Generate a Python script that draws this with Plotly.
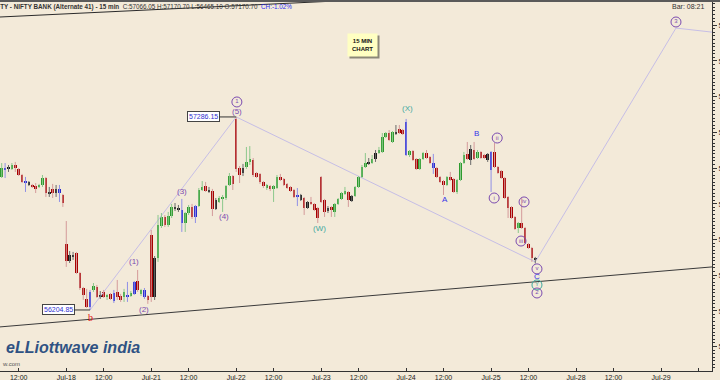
import plotly.graph_objects as go

# ---------------- data ----------------
sessions = ["Jul-17", "Jul-18", "Jul-21", "Jul-22", "Jul-23", "Jul-24", "Jul-25", "Jul-28", "Jul-29"]
BARS_PER_SESSION = 25      # 15-min bars 09:15 .. 15:15
FIRST_SLOT = 6             # first bar shown is Jul-17 10:45
NOON_SLOT = 11             # 12:00 bar

opens = [
    56950, 56995, 57000, 56995, 57017, 56995, 56961, 56922, 56922, 56905, 56899, 56894, 56905, 56944, 56866, 56883, 56860, 56883, 56849,
    56575, 56479, 56507, 56524, 56412, 56328, 56267, 56222, 56317, 56334, 56289, 56306, 56278, 56295, 56300, 56306, 56283, 56278, 56283, 56283, 56295, 56367, 56295, 56317, 56283,
    56625, 56278, 56496, 56675, 56726, 56681, 56731, 56771, 56771, 56765, 56692, 56748, 56782, 56726, 56787, 56877, 56899, 56877, 56871, 56771, 56810, 56827, 56832, 56905, 56955,
    57275, 57000, 56972, 57006, 57034, 57045, 56972, 56967, 56922, 56888, 56899, 56888, 56888, 56950, 56939, 56911, 56894, 56877, 56849, 56821, 56832, 56776, 56810, 56799, 56776,
    56950, 56821, 56759, 56782, 56754, 56799, 56827, 56855, 56866, 56815, 56843, 56894, 56950, 57006, 57028, 57028, 57051, 57084, 57090, 57174, 57196, 57146, 57191, 57219, 57213,
    57258, 57073, 57095, 57051, 56995, 57051, 57084, 57062, 57028, 57000, 56950, 56927, 56905, 56950, 56939, 56866, 56933, 57028, 57079, 57045, 57101, 57056, 57090, 57073, 57045,
    57090, 57090, 57006, 56983, 56944, 56838, 56782, 56726, 56664, 56692, 56664, 56575, 56552, 56491,
]
highs = [
    57028, 57028, 57017, 57028, 57034, 57000, 56967, 56950, 56927, 56911, 56916, 56911, 56961, 56950, 56894, 56911, 56905, 56905, 56855,
    56703, 56535, 56530, 56530, 56418, 56334, 56323, 56317, 56356, 56345, 56311, 56317, 56295, 56300, 56317, 56373, 56295, 56323, 56362, 56311, 56367, 56429, 56323, 56328, 56289,
    56653, 56507, 56737, 56748, 56737, 56754, 56799, 56804, 56793, 56827, 56754, 56793, 56799, 56793, 56888, 56927, 56922, 56894, 56883, 56832, 56843, 56849, 56905, 56972, 56961,
    57286.15, 57011, 57023, 57118, 57123, 57056, 56978, 56972, 56927, 56911, 56905, 56905, 56961, 56967, 56944, 56916, 56899, 56883, 56888, 56855, 56838, 56815, 56838, 56804, 56782,
    56955, 56827, 56787, 56787, 56804, 56832, 56866, 56894, 56871, 56849, 56899, 56955, 57017, 57084, 57056, 57073, 57101, 57118, 57196, 57202, 57213, 57207, 57241, 57241, 57219,
    57275, 57101, 57101, 57056, 57056, 57090, 57101, 57067, 57079, 57006, 56955, 56933, 56955, 56978, 56944, 56939, 57034, 57090, 57146, 57129, 57146, 57101, 57095, 57079, 57084,
    57095, 57140, 57011, 56989, 56950, 56843, 56787, 56731, 56698, 56832, 56670, 56580, 56558, 56502,
]
lows = [
    56944, 56944, 56978, 56989, 56978, 56955, 56916, 56866, 56899, 56888, 56860, 56888, 56894, 56838, 56838, 56832, 56838, 56810, 56782,
    56446, 56468, 56485, 56407, 56317, 56261, 56216, 56204.85, 56306, 56272, 56267, 56272, 56261, 56261, 56244, 56261, 56250, 56250, 56250, 56278, 56289, 56306, 56283, 56267, 56239,
    56250, 56261, 56474, 56664, 56670, 56670, 56720, 56759, 56754, 56642, 56642, 56737, 56715, 56692, 56782, 56871, 56866, 56860, 56731, 56765, 56804, 56754, 56821, 56899, 56877,
    56978, 56916, 56955, 56995, 57017, 56950, 56944, 56911, 56888, 56877, 56871, 56810, 56883, 56927, 56899, 56883, 56866, 56832, 56787, 56815, 56737, 56771, 56793, 56759, 56692,
    56804, 56726, 56748, 56726, 56726, 56793, 56821, 56849, 56782, 56810, 56838, 56888, 56944, 57000, 57017, 57023, 57034, 57079, 57084, 57168, 57151, 57140, 57185, 57191, 57185,
    57067, 57062, 57039, 56989, 56989, 57045, 57051, 57023, 56967, 56944, 56916, 56849, 56899, 56927, 56860, 56855, 56927, 57023, 57045, 57017, 57045, 57051, 57051, 57051, 57034,
    56866, 57000, 56967, 56939, 56827, 56720, 56715, 56653, 56636, 56659, 56575, 56547, 56474, 56465.10,
]
closes = [
    57000, 56990, 56997, 57017, 57000, 56961, 56922, 56920, 56905, 56894, 56888, 56905, 56944, 56860, 56860, 56860, 56883, 56860, 56804,
    56479, 56513, 56505, 56412, 56328, 56289, 56222, 56306, 56339, 56278, 56278, 56278, 56289, 56267, 56255, 56278, 56261, 56306, 56285, 56300, 56362, 56317, 56317, 56278, 56261,
    56278, 56496, 56681, 56726, 56681, 56731, 56782, 56782, 56765, 56692, 56748, 56782, 56726, 56787, 56877, 56894, 56871, 56871, 56771, 56821, 56832, 56838, 56899, 56955, 56911,
    56995, 56961, 57000, 57034, 57051, 56961, 56950, 56922, 56899, 56905, 56883, 56899, 56950, 56933, 56905, 56888, 56871, 56838, 56838, 56849, 56776, 56810, 56799, 56765, 56720,
    56810, 56754, 56776, 56765, 56799, 56827, 56860, 56871, 56821, 56843, 56894, 56950, 57006, 57028, 57034, 57051, 57084, 57101, 57174, 57196, 57157, 57202, 57202, 57196, 57191,
    57073, 57095, 57045, 56995, 57051, 57084, 57056, 57028, 57000, 56950, 56922, 56905, 56950, 56933, 56866, 56933, 57028, 57073, 57051, 57107, 57051, 57090, 57056, 57056, 57079,
    56989, 57006, 56972, 56944, 56832, 56776, 56720, 56659, 56692, 56664, 56580, 56552, 56496, 56485,
]
# bars the source chart paints blue / black
blue_bars = [1, 7, 17, 26, 33, 37, 39, 42, 53, 57, 87, 119, 127, 144]
black_bars = [2, 8, 14, 16, 20, 21, 29, 45, 51, 52, 61, 63, 71, 88, 90, 96, 103, 108, 110, 116, 138, 143, 157]

# Elliott wave path (bar index, price) and projection
wave_path_bars = [26, 69, 157.0, 198.4, 211.4]
wave_path_prices = [56204.85, 57286.15, 56474, 57784, 57756]

# black trend lines (bar index, price)
lower_trend_bars = [-0.5, 209.0]
lower_trend_prices = [56110, 56446]
upper_trend_bars = [-0.5, 97.6]
upper_trend_prices = [57846, 57935]

# wave labels: text, bar index, price, group
wave_labels = [
    ("b", 26, 56160, "red"),
    ("(1)", 39, 56474, "purple"),
    ("(2)", 42, 56205, "purple"),
    ("(3)", 53, 56866, "purple"),
    ("(4)", 65.4, 56726, "purple"),
    ("(5)", 69.2, 57319, "purple"),
    ("(W)", 93.4, 56659, "teal"),
    ("(X)", 119.3, 57331, "teal"),
    ("A", 130.5, 56821, "blue"),
    ("B", 139.6, 57191, "blue"),
    ("C", 157.5, 56390, "blue"),
]
circled_labels = [
    ("1", 69.2, 57370, "purple"),
    ("i", 144.9, 56832, "purple"),
    ("ii", 145.8, 57168, "purple"),
    ("iii", 152.8, 56591, "purple"),
    ("iv", 153.7, 56810, "purple"),
    ("v", 157.5, 56435, "purple"),
    ("Y", 157.5, 56345, "teal"),
    ("2", 157.5, 56300, "purple"),
    ("3", 198.4, 57818, "purple"),
]
title_name = "NIFTY - NIFTY BANK (Alternate 41) - 15 min"
title_stats = "C:57066.05 H:57170.70 L:56465.10 O:57170.70"
title_change = "CH:-1.02%"
bar_clock = "Bar: 08:21"

# ---------------- derived ----------------
n = len(opens)
xs = list(range(n))

tickvals, ticktext = [], []
for s, name in enumerate(sessions):
    day_pos = s * BARS_PER_SESSION - FIRST_SLOT
    noon_pos = day_pos + NOON_SLOT
    if day_pos >= 0:
        tickvals.append(day_pos)
        ticktext.append(name)
    tickvals.append(noon_pos)
    ticktext.append("12:00" if s < len(sessions) - 1 else "")

def kind(i):
    if i in blue_bars:
        return "blue"
    if i in black_bars:
        return "black"
    return "green" if closes[i] >= opens[i] else "red"

BODY = {"green": "#2E9B2E", "red": "#A80000", "blue": "#2B2BD0", "black": "#1A1A1A"}
WICK = {"green": "#8CC88C", "red": "#D49A9A", "blue": "#8F8FE6", "black": "#6A6A6A"}
LABEL = {"purple": "#7B4BB0", "teal": "#3FA8A0", "blue": "#3535E8", "red": "#E01010"}

kinds = [kind(i) for i in xs]
MIN_BODY = 5.0
bases, heights = [], []
for o, c in zip(opens, closes):
    lo, hi = min(o, c), max(o, c)
    if hi - lo < MIN_BODY:
        mid = (hi + lo) / 2
        lo, hi = mid - MIN_BODY / 2, mid + MIN_BODY / 2
    bases.append(lo)
    heights.append(hi - lo)

fig = go.Figure()

# trend lines
fig.add_trace(go.Scatter(x=lower_trend_bars, y=lower_trend_prices, mode="lines",
                         line=dict(color="#3A3A3A", width=1), hoverinfo="skip"))
fig.add_trace(go.Scatter(x=upper_trend_bars, y=upper_trend_prices, mode="lines",
                         line=dict(color="#2A2A2A", width=1), hoverinfo="skip"))
# wave path
fig.add_trace(go.Scatter(x=wave_path_bars, y=wave_path_prices, mode="lines",
                         line=dict(color="#C6BEE6", width=1), hoverinfo="skip"))

# wicks
for k in ["green", "red", "blue", "black"]:
    wx, wy = [], []
    for i in xs:
        if kinds[i] == k:
            wx += [i, i, None]
            wy += [lows[i], highs[i], None]
    fig.add_trace(go.Scatter(x=wx, y=wy, mode="lines", line=dict(color=WICK[k], width=1),
                             hoverinfo="skip"))
# bodies
fig.add_trace(go.Bar(x=xs, y=heights, base=bases, width=0.75,
                     marker=dict(color=[BODY[k] for k in kinds], line=dict(width=0)),
                     hoverinfo="skip"))

# circled labels
for txt, bx, py, grp in circled_labels:
    fig.add_trace(go.Scatter(x=[bx], y=[py], mode="markers+text", text=[txt],
                             textposition="middle center",
                             textfont=dict(size=6, color=LABEL[grp], family="Liberation Sans"),
                             marker=dict(symbol="circle-open", size=10,
                                         line=dict(color=LABEL[grp], width=1), color=LABEL[grp]),
                             hoverinfo="skip", cliponaxis=False))

# current price marker
fig.add_trace(go.Scatter(x=[210.2], y=[closes[-1]], mode="markers",
                         marker=dict(size=7, color="#22D822", line=dict(color="#128A12", width=1)),
                         cliponaxis=False, hoverinfo="skip"))

ann = []
for txt, bx, py, grp in wave_labels:
    fam = "Liberation Serif" if txt == "b" else "Liberation Sans"
    ann.append(dict(x=bx, y=py, xref="x", yref="y", text=txt, showarrow=False,
                    font=dict(size=8 if txt != "b" else 10, color=LABEL[grp], family=fam)))

# price call-outs
ann.append(dict(x=26, y=lows[26], xref="x", yref="y", text="56204.85", showarrow=True,
                arrowhead=0, arrowwidth=1, arrowcolor="#333333", ax=-32, ay=0,
                bgcolor="#FFFFFF", bordercolor="#444444", borderwidth=1, borderpad=1,
                font=dict(size=7, color="#3030D0", family="Liberation Sans")))
ann.append(dict(x=69, y=highs[69], xref="x", yref="y", text="57286.15", showarrow=True,
                arrowhead=0, arrowwidth=1, arrowcolor="#333333", ax=-33, ay=0,
                bgcolor="#FFFFFF", bordercolor="#444444", borderwidth=1, borderpad=1,
                font=dict(size=7, color="#3030D0", family="Liberation Sans")))

# 15 MIN CHART note (shadow + box)
for shift, bg, fc in [(2, "#8C8878", "#8C8878"), (0, "#FFFFC2", "#111111")]:
    ann.append(dict(x=362 / 712, y=1 - (45 - 2) / 369, xref="paper", yref="paper",
                    xanchor="center", yanchor="middle",
                    text="<b>15 MIN<br>CHART</b>", showarrow=False, xshift=shift, yshift=-shift,
                    bgcolor=bg, borderpad=4, font=dict(size=6, color=fc, family="Liberation Sans")))

# title line
ann.append(dict(x=-0.0175, y=1 - 5 / 369, xref="paper", yref="paper", xanchor="left",
                yanchor="middle", showarrow=False,
                text=f"<b>{title_name}</b>  {title_stats}  "
                     f"<span style='color:#2A2AF0'>{title_change}</span>",
                font=dict(size=6.3, color="#333333", family="Liberation Sans")))
ann.append(dict(x=706 / 712, y=1 - 5 / 369, xref="paper", yref="paper", xanchor="right",
                yanchor="middle", showarrow=False, text=bar_clock,
                font=dict(size=7, color="#333333", family="Liberation Sans")))
# logo
ann.append(dict(x=4 / 712, y=1 - (347 - 2) / 369, xref="paper", yref="paper", xanchor="left",
                yanchor="middle", showarrow=False, text="<b><i>eLLiottwave india</i></b>",
                font=dict(size=16, color="#2F5283", family="Liberation Sans")))
ann.append(dict(x=0, y=1 - (364 - 2) / 369, xref="paper", yref="paper", xanchor="left",
                yanchor="middle", showarrow=False, text="w.com",
                font=dict(size=6, color="#555555", family="Liberation Sans")))

fig.update_layout(
    width=720, height=380,
    margin=dict(l=0, r=8, t=2, b=9, autoexpand=False),
    paper_bgcolor="#F3EAD9", plot_bgcolor="#F3EAD9",
    showlegend=False, annotations=ann, bargap=0,
    shapes=[dict(type="rect", xref="paper", yref="paper", x0=-0.01, x1=1.02,
                 y0=1, y1=1 + 2 / 369, fillcolor="#5A5A5A", line=dict(width=0))],
    xaxis=dict(range=[-0.5, 209.0], tickvals=tickvals, ticktext=ticktext,
               ticks="inside", ticklen=3, tickcolor="#333333", automargin=False,
               showline=True, linecolor="#333333", linewidth=1, mirror=True,
               showgrid=False, zeroline=False, ticklabelstandoff=0,
               tickfont=dict(size=7, color="#222222", family="Liberation Sans")),
    yaxis=dict(side="right", range=[55863, 57930], tick0=0, dtick=200, automargin=False,
               ticks="outside", ticklen=4, tickcolor="#333333",
               showline=True, linecolor="#333333", linewidth=1,
               showgrid=False, zeroline=False,
               minor=dict(dtick=20, ticks="outside", ticklen=2, tickcolor="#333333", showgrid=False),
               tickfont=dict(size=8, color="#222222", family="Liberation Sans")),
)

fig.write_html("out.html", config={"displayModeBar": False},
               post_script="document.body.style.margin='0';document.body.style.background='#F3EAD9';")
